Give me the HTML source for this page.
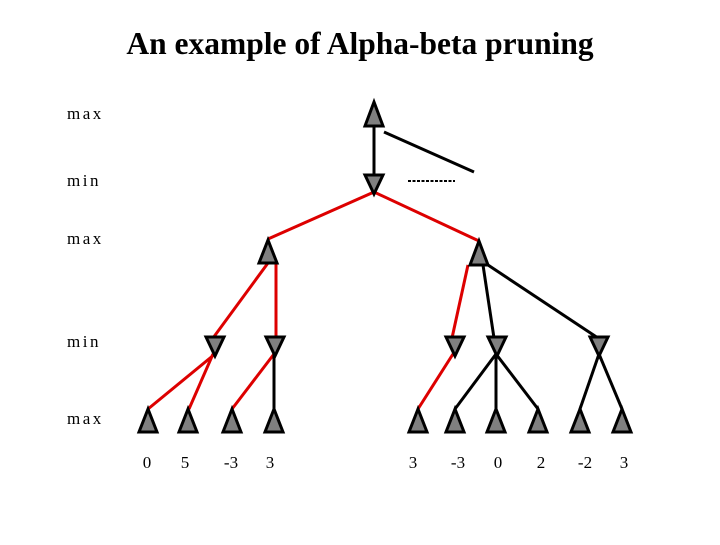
<!DOCTYPE html>
<html><head><style>body{margin:0;background:#fff}</style></head><body>
<svg width="720" height="540" xmlns="http://www.w3.org/2000/svg" font-family="Liberation Serif, serif">
<text x="360" y="54" text-anchor="middle" font-size="31.5" font-weight="bold">An example of Alpha-beta pruning</text>
<g font-size="17" letter-spacing="2.5">
<text x="67" y="119">max</text><text x="67" y="186">min</text><text x="67" y="244">max</text><text x="67" y="347">min</text><text x="67" y="424">max</text>
</g>
<g font-size="17" text-anchor="middle">
<text x="147" y="468">0</text><text x="185" y="468">5</text><text x="231" y="468">-3</text><text x="270" y="468">3</text>
<text x="413" y="468">3</text><text x="458" y="468">-3</text><text x="498" y="468">0</text><text x="541" y="468">2</text><text x="585" y="468">-2</text><text x="624" y="468">3</text>
</g>
<g stroke-width="3" fill="none">
<line x1="374" y1="126" x2="374" y2="176" stroke="#000"/>
<line x1="384" y1="132" x2="474" y2="172" stroke="#000"/>
<line x1="408" y1="181" x2="455" y2="181" stroke="#000" stroke-width="2" stroke-dasharray="3,1.5"/>
<line x1="374" y1="192" x2="268" y2="239" stroke="#d00"/>
<line x1="374" y1="192" x2="479" y2="241" stroke="#d00"/>
<line x1="268" y1="263" x2="213" y2="338" stroke="#d00"/>
<line x1="276" y1="263" x2="276" y2="338" stroke="#d00"/>
<line x1="468" y1="265" x2="452" y2="338" stroke="#d00"/>
<line x1="483" y1="265" x2="494" y2="338" stroke="#000"/>
<line x1="488" y1="265" x2="598" y2="338" stroke="#000"/>
<line x1="215" y1="354" x2="148" y2="409" stroke="#d00"/>
<line x1="213" y1="354" x2="189" y2="409" stroke="#d00"/>
<line x1="274" y1="354" x2="232" y2="409" stroke="#d00"/>
<line x1="274" y1="354" x2="274" y2="409" stroke="#000"/>
<line x1="453" y1="354" x2="418" y2="409" stroke="#d00"/>
<line x1="496" y1="354" x2="455" y2="409" stroke="#000"/>
<line x1="496" y1="354" x2="496" y2="409" stroke="#000"/>
<line x1="496" y1="354" x2="538" y2="409" stroke="#000"/>
<line x1="599" y1="354" x2="580" y2="409" stroke="#000"/>
<line x1="599" y1="354" x2="622" y2="409" stroke="#000"/>
</g>
<g fill="#808080" stroke="#000" stroke-width="3" stroke-linejoin="miter">
<polygon points="374,102 365,126 383,126"/>
<polygon points="365,175 383,175 374,194"/>
<polygon points="268,240 259,263 277,263"/>
<polygon points="479,241 470,265 488,265"/>
<polygon points="206,337 224,337 215,356"/>
<polygon points="266,337 284,337 275,356"/>
<polygon points="446,337 464,337 455,356"/>
<polygon points="488,337 506,337 497,356"/>
<polygon points="590,337 608,337 599,356"/>
<polygon points="148,409 139,432 157,432"/>
<polygon points="188,409 179,432 197,432"/>
<polygon points="232,409 223,432 241,432"/>
<polygon points="274,409 265,432 283,432"/>
<polygon points="418,409 409,432 427,432"/>
<polygon points="455,409 446,432 464,432"/>
<polygon points="496,409 487,432 505,432"/>
<polygon points="538,409 529,432 547,432"/>
<polygon points="580,409 571,432 589,432"/>
<polygon points="622,409 613,432 631,432"/>
</g>
</svg>
</body></html>
